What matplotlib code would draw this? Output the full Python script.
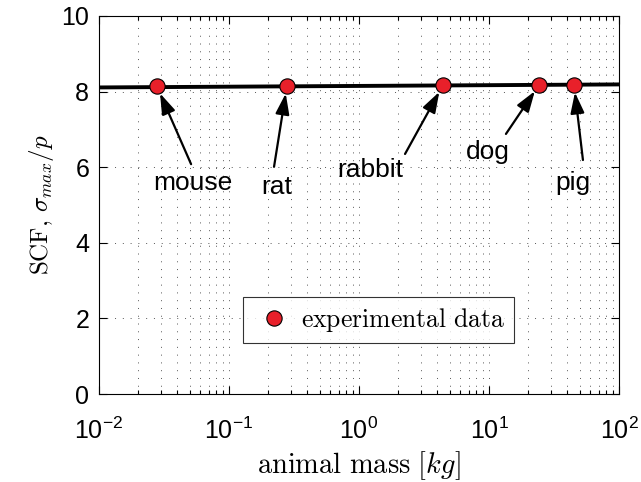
import numpy as np
import matplotlib
matplotlib.use("Agg")
import matplotlib.pyplot as plt
from matplotlib.ticker import LogLocator, NullFormatter

plt.rcParams['font.family'] = ['Liberation Sans', 'DejaVu Sans']
plt.rcParams['mathtext.fontset'] = 'cm'

# data
animals = ["mouse", "rat", "rabbit", "dog", "pig"]
mass = [0.0279, 0.279, 4.43, 24.3, 45.1]          # kg
scf = [8.14, 8.15, 8.17, 8.18, 8.18]
fit_mass = [0.01, 100]
fit_scf = [8.11, 8.19]

# label / arrow tail positions (data coords)
label_pos = [(0.0528, 5.58), (0.234, 5.48), (1.22, 5.93), (9.8, 6.40), (44.3, 5.58)]
tail_pos = [(0.0511, 6.08), (0.222, 6.01), (2.26, 6.35), (13.5, 6.88), (52.8, 6.19)]

fig = plt.figure(figsize=(6.41, 4.82), dpi=100)
ax = fig.add_axes([99 / 641, (482 - 394) / 482, 520 / 641, 378 / 482])

ax.plot(fit_mass, fit_scf, color="black", lw=2.8, zorder=3)
ax.plot(mass, scf, "o", color="#e8202a", mec="black", mew=0.8, ms=11,
        label=r"$\mathrm{experimental\ data}$", zorder=4)

for name, (tx, ty), (ax_, ay), mx, my in zip(animals, label_pos, tail_pos, mass, scf):
    ax.text(tx, ty, name, fontsize=19, ha="center", va="center", zorder=5)
    ax.annotate("", xy=(mx, my), xytext=(ax_, ay),
                arrowprops=dict(arrowstyle="-|>,head_length=0.9,head_width=0.3",
                                color="black", lw=1.6, shrinkA=0, shrinkB=5.5,
                                mutation_scale=14), zorder=5)

ax.set_xscale("log")
ax.set_xlim(1e-2, 1e2)
ax.set_ylim(0, 10)
ax.set_yticks([0, 2, 4, 6, 8, 10])
ax.xaxis.set_minor_locator(LogLocator(base=10, subs=np.arange(2, 10), numticks=20))
ax.xaxis.set_minor_formatter(NullFormatter())

ax.tick_params(which="both", direction="in", top=True, right=True, labelsize=18)
ax.tick_params(which="major", length=6, width=0.8)
ax.tick_params(which="minor", length=3, width=0.8)
ax.tick_params(axis="x", pad=17)
ax.tick_params(axis="y", pad=7)

ax.grid(which="major", axis="both", color="#555555", linestyle=(0, (1, 7)), lw=0.7)
ax.grid(which="minor", axis="x", color="#555555", linestyle=(0, (1, 7)), lw=0.7)

ax.set_xlabel(r"$\mathrm{animal\ mass}\ [kg]$", fontsize=20.5, labelpad=4)
ax.set_ylabel(r"$\mathrm{SCF},\,\sigma_{max}/p$", fontsize=18, labelpad=4)

leg = ax.legend(loc="center", bbox_to_anchor=(0.537, 0.196), fontsize=18.5,
                frameon=True, fancybox=False, edgecolor="black",
                handlelength=1.7, handletextpad=0.2, borderpad=0.35)
leg.get_frame().set_linewidth(0.8)

for s in ax.spines.values():
    s.set_linewidth(0.8)

fig.savefig("out.png", dpi=100)
